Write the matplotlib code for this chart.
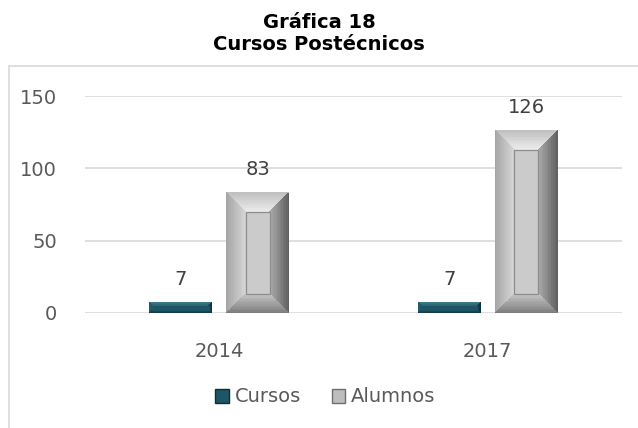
import matplotlib
matplotlib.use("Agg")
import matplotlib.pyplot as plt
from matplotlib.patches import Polygon, Rectangle, Patch
import numpy as np
from matplotlib.colors import to_rgb

categories = ["2014", "2017"]
series_names = ["Cursos", "Alumnos"]
cursos = [7, 7]
alumnos = [83, 126]
yticks = [0, 50, 100, 150]

W, H = 638, 428
fig = plt.figure(figsize=(W / 100, H / 100), dpi=100)

# outer chart border
fig.patches.append(Rectangle((9 / W, -0.05), 1.2, 1 - 66 / H + 0.05, transform=fig.transFigure,
                             fill=False, edgecolor="#D9D9D9", linewidth=1.2))

ax_l, ax_r, ax_t, ax_b = 85, 622, 96, 313
ax = fig.add_axes([ax_l / W, 1 - ax_b / H, (ax_r - ax_l) / W, (ax_b - ax_t) / H])
ax.set_xlim(-0.5, len(categories) - 0.5)
ax.set_ylim(0, 150)
dx = (len(categories)) / (ax_r - ax_l)   # data per px
dy = 150 / (ax_b - ax_t)

for s in ax.spines.values():
    s.set_visible(False)
ax.set_yticks(yticks)
ax.yaxis.grid(True, color="#D9D9D9", linewidth=1.2)
ax.set_axisbelow(True)
ax.tick_params(axis="y", length=0, pad=20, labelsize=14, labelcolor="#595959")
ax.tick_params(axis="x", length=0, pad=21, labelsize=14, labelcolor="#595959")
ax.set_xticks(range(len(categories)))
ax.set_xticklabels(categories)

bar_w = 62 * dx
gap = 15 * dx


def mix(c1, c2, t):
    a, b = np.array(to_rgb(c1)), np.array(to_rgb(c2))
    return tuple(a + (b - a) * t)


def bevel_bar(x0, w, h, face, sides, inner_edge, bpx, n=12):
    bx = bpx * dx
    by = min(bpx * dy, h / 2.5)
    x1 = x0 + w
    for k in range(n):
        t0, t1 = k / n, (k + 1) / n
        ax0, ax1, ay0, ay1 = x0 + bx * t0, x1 - bx * t0, by * t0, h - by * t0
        bx0, bx1, by0, by1 = x0 + bx * t1, x1 - bx * t1, by * t1, h - by * t1
        tm = (t0 + t1) / 2
        ctop, cleft, cright, cbot = [mix(o, i, tm) for (o, i) in sides]
        kw = dict(closed=True, edgecolor="none", zorder=3, antialiased=False)
        ax.add_patch(Polygon([(ax0, ay1), (ax1, ay1), (bx1, by1), (bx0, by1)], facecolor=ctop, **kw))
        ax.add_patch(Polygon([(ax0, ay0), (ax0, ay1), (bx0, by1), (bx0, by0)], facecolor=cleft, **kw))
        ax.add_patch(Polygon([(ax1, ay0), (ax1, ay1), (bx1, by1), (bx1, by0)], facecolor=cright, **kw))
        ax.add_patch(Polygon([(ax0, ay0), (ax1, ay0), (bx1, by0), (bx0, by0)], facecolor=cbot, **kw))
    ax.add_patch(Rectangle((x0 + bx, by), w - 2 * bx, h - 2 * by, facecolor=face,
                           edgecolor=inner_edge, linewidth=0.9, zorder=4))


gray_sides = [("#BEBEBE", "#ECECEC"), ("#A4A4A4", "#D6D6D6"), ("#5E5E5E", "#ABABAB"), ("#7A7A7A", "#C4C4C4")]
teal_sides = [("#3E7D8E", "#2B6475"), ("#25596A", "#22596A"), ("#0E2E38", "#163F4C"), ("#143A46", "#1A4A58")]

for i, (c, a) in enumerate(zip(cursos, alumnos)):
    xc0 = i - (2 * bar_w + gap) / 2
    xa0 = xc0 + bar_w + gap
    bevel_bar(xc0, bar_w, c, "#1E5565", teal_sides, "#1E5565", 3, n=3)
    bevel_bar(xa0, bar_w, a, "#CBCBCB", gray_sides, "#8C8C8C", 19)
    ax.text(xc0 + bar_w / 2, c + 14 * dy, str(c), ha="center", va="bottom", fontsize=14, color="#404040")
    ax.text(xa0 + bar_w / 2, a + 14 * dy, str(a), ha="center", va="bottom", fontsize=14, color="#404040")

fig.text(0.5, 1 - 22 / H, "Gráfica 18", ha="center", va="center", fontsize=14, fontweight="bold", color="black")
fig.text(0.5, 1 - 45 / H, "Cursos Postécnicos", ha="center", va="center", fontsize=14, fontweight="bold", color="black")

handles = [Patch(facecolor="#1E5565", edgecolor="#0E2E38"), Patch(facecolor="#BDBDBD", edgecolor="#6E6E6E")]
fig.legend(handles, series_names, loc="center", bbox_to_anchor=(0.51, 1 - 397 / H), ncol=2, frameon=False,
           fontsize=14, labelcolor="#595959", handlelength=0.7, handleheight=0.7, handletextpad=0.3, columnspacing=1.6)

fig.savefig("out.png", dpi=100)
